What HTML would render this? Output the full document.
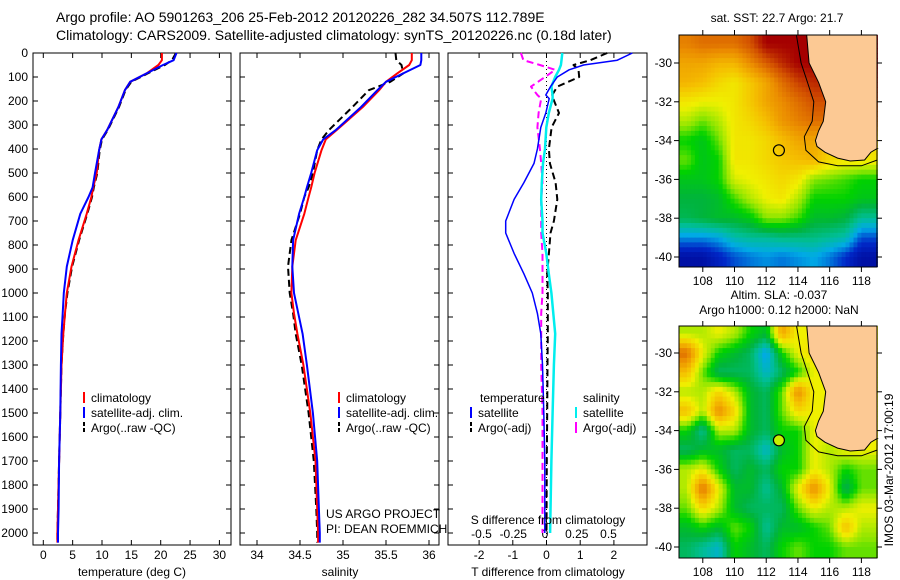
<!DOCTYPE html>
<html><head><meta charset="utf-8">
<style>
html,body{margin:0;padding:0;background:#fff;}
svg{display:block;font-family:"Liberation Sans",sans-serif;}
</style></head>
<body>
<svg id="fig" width="900" height="580" viewBox="0 0 900 580">
<text x="56" y="22" font-size="14">Argo profile: AO 5901263_206 25-Feb-2012 20120226_282 34.507S 112.789E</text>
<text x="56" y="40" font-size="14">Climatology: CARS2009. Satellite-adjusted climatology: synTS_20120226.nc (0.18d later)</text>
<g id="g1"></g>
<g id="g2"></g>
<g id="g3"></g>
<g id="m1"></g>
<g id="m2"></g>
<text x="777" y="22" font-size="12" text-anchor="middle">sat. SST: 22.7 Argo: 21.7</text>
<text x="779" y="299" font-size="12" text-anchor="middle">Altim. SLA: -0.037</text>
<text x="779" y="314" font-size="12" text-anchor="middle">Argo h1000: 0.12 h2000: NaN</text>
<text transform="translate(893,470) rotate(-90)" font-size="12" text-anchor="middle">IMOS 03-Mar-2012 17:00:19</text>
</svg>
<script>
// ---- profile data ----
const depth = [0,30,50,85,120,155,225,320,360,405,500,560,600,670,780,890,1000,1085,1170,1300,1500,1700,1900,2000,2040];
const tempClim = [20.2,20.2,19.6,17.6,14.8,13.9,12.8,10.9,9.9,9.5,9.1,8.5,8.2,7.4,6.0,4.8,4.0,3.7,3.4,3.1,2.9,2.7,2.5,2.4,2.4];
const tempSat = [22.7,22.2,20.4,17.6,14.8,13.9,12.8,10.9,9.9,9.5,8.8,8.4,7.7,6.3,5.0,4.0,3.5,3.3,3.1,3.0,2.9,2.7,2.6,2.5,2.5];
const tempArgo = [22.6,21.9,20.7,17.8,15.0,14.0,12.9,11.0,10.0,9.6,9.2,8.6,8.3,7.5,6.1,4.9,4.1,3.7,3.4,3.1,2.9,2.7,2.5,2.4,2.4];
const salClim = [35.80,35.80,35.77,35.63,35.50,35.42,35.23,34.93,34.80,34.75,34.67,34.63,34.60,34.55,34.45,34.41,34.40,34.43,34.47,34.54,34.62,34.68,34.70,34.71,34.71];
const salSat = [35.91,35.91,35.90,35.70,35.50,35.40,35.21,34.92,34.77,34.70,34.63,34.58,34.55,34.49,34.42,34.41,34.43,34.48,34.53,34.58,34.65,34.70,34.72,34.73,34.73];
const salArgo = [35.61,35.62,35.68,35.70,35.55,35.30,35.11,34.84,34.75,34.70,34.65,34.60,34.55,34.50,34.40,34.36,34.38,34.42,34.45,34.52,34.60,34.66,34.69,34.70,34.70];
const diffDepth = [0,30,50,70,100,140,175,190,250,310,400,460,540,610,700,750,835,920,1000,1085,1170,1300,1500,1700,2000];
const tDiffSat = [2.55,2.1,1.1,0.67,0.32,0.12,-0.02,0.08,-0.02,-0.17,-0.27,-0.37,-0.67,-0.96,-1.21,-1.21,-0.96,-0.67,-0.42,-0.27,-0.17,-0.12,-0.08,-0.05,-0.05];
const tDiffArgo = [1.8,1.3,0.8,0.95,0.97,0.32,0.17,0.2,0.37,0.15,0.07,0.1,0.27,0.32,0.22,0.12,0.07,0.02,0.04,0.04,0.04,0.03,0.02,0.01,0.0];
const sDiffSat = [0.136,0.13,0.125,0.11,0.08,0.05,0.06,0.06,0.03,0.01,0.0,-0.016,-0.025,-0.03,-0.02,-0.02,0.01,0.03,0.05,0.065,0.08,0.07,0.06,0.05,0.04];
const sDiffArgo = [-0.19,-0.17,-0.04,0.08,0.0,-0.11,-0.06,-0.03,-0.05,-0.06,-0.04,-0.03,-0.02,-0.03,-0.03,-0.03,-0.02,-0.02,-0.02,-0.03,-0.03,-0.03,-0.02,-0.02,-0.02];
const depthTicks = [0,100,200,300,400,500,600,700,800,900,1000,1100,1200,1300,1400,1500,1600,1700,1800,1900,2000];
const tempTicks = [0,5,10,15,20,25,30];
const salTicks = [34,34.5,35,35.5,36];
const salTickLabels = ["34","34.5","35","35.5","36"];
const tdTicks = [-2,-1,0,1,2];
const sdTicks = [-0.5,-0.25,0,0.25,0.5];
const sdTickLabels = ["-0.5","-0.25","0","0.25","0.5"];
// ---- map data (1-degree grid, rows lat -29..-40, cols lon 107..118) ----
const mapLats = [-29,-30,-31,-32,-33,-34,-35,-36,-37,-38,-39,-40];
const mapLons = [107,108,109,110,111,112,113,114,115,116,117,118];
const sstGrid = [
[0.82,0.85,0.85,0.85,0.9,1.0,1.0,1.0,1.0,1,1,1],
[0.75,0.75,0.72,0.72,0.8,0.88,0.95,1.0,1.0,1,1,1],
[0.72,0.7,0.65,0.62,0.68,0.75,0.85,0.92,0.95,0.95,0.95,0.95],
[0.62,0.6,0.6,0.62,0.68,0.75,0.8,0.85,0.9,0.9,0.9,0.9],
[0.55,0.5,0.55,0.62,0.65,0.7,0.78,0.82,0.85,0.85,0.85,0.85],
[0.45,0.42,0.5,0.62,0.62,0.65,0.7,0.75,0.75,0.7,0.68,0.65],
[0.5,0.42,0.45,0.62,0.62,0.65,0.68,0.7,0.72,0.65,0.62,0.62],
[0.42,0.42,0.45,0.58,0.6,0.62,0.65,0.62,0.52,0.5,0.48,0.45],
[0.38,0.38,0.4,0.48,0.55,0.6,0.62,0.55,0.45,0.45,0.45,0.42],
[0.36,0.38,0.4,0.4,0.43,0.52,0.52,0.48,0.4,0.4,0.38,0.3],
[0.2,0.2,0.22,0.28,0.3,0.3,0.32,0.32,0.32,0.3,0.28,0.15],
[0.05,0.05,0.1,0.15,0.18,0.2,0.18,0.2,0.22,0.18,0.12,0.05]];
const slaGrid = [
[0.55,0.55,0.6,0.55,0.45,0.4,0.75,0.6,0.6,0.6,0.6,0.6],
[0.85,0.6,0.45,0.4,0.35,0.2,0.45,0.6,0.65,0.65,0.65,0.65],
[0.7,0.5,0.35,0.35,0.35,0.25,0.35,0.45,0.6,0.6,0.6,0.6],
[0.55,0.55,0.65,0.55,0.4,0.35,0.5,0.8,0.6,0.6,0.6,0.6],
[0.7,0.55,0.8,0.65,0.4,0.35,0.5,0.65,0.6,0.6,0.6,0.6],
[0.45,0.3,0.55,0.55,0.4,0.35,0.45,0.45,0.6,0.6,0.6,0.6],
[0.35,0.4,0.4,0.35,0.35,0.25,0.4,0.45,0.6,0.55,0.6,0.6],
[0.55,0.6,0.45,0.35,0.4,0.35,0.45,0.45,0.6,0.55,0.45,0.5],
[0.55,0.85,0.6,0.4,0.4,0.3,0.4,0.6,0.8,0.6,0.35,0.5],
[0.5,0.65,0.55,0.4,0.35,0.35,0.35,0.5,0.6,0.55,0.55,0.6],
[0.4,0.45,0.4,0.5,0.45,0.3,0.4,0.4,0.45,0.5,0.7,0.55],
[0.35,0.3,0.25,0.45,0.4,0.35,0.45,0.5,0.45,0.45,0.5,0.5]];
const coastLon = [114.55,114.7,115.3,115.75,115.6,115.3,115.1,115.2,115.7,116.5,117.3,118.2,118.6,119.0];
const coastLat = [-28.56,-30,-31,-32,-33,-33.5,-34,-34.3,-34.6,-34.9,-35.05,-35.0,-34.6,-34.4];
const isoLon = [113.9,114.2,114.6,115.0,114.9,114.4,114.5,115.3,116.5,118.0,119.0];
const isoLat = [-28.56,-30,-31,-32,-33,-33.8,-34.5,-35.1,-35.3,-35.3,-35.0];
const argoPos = [112.8,-34.5];
const mapLonTicks = [108,110,112,114,116,118];
const mapLatTicks = [-30,-32,-34,-36,-38,-40];

const NS="http://www.w3.org/2000/svg";
function mk(parent,tag,attrs,name,text){
  const e=document.createElementNS(NS,tag);
  for(const k in attrs) e.setAttribute(k,attrs[k]);
  
  
  if(text!==undefined) e.textContent=text;
  parent.appendChild(e); return e;
}
const TOP=53,BOT=545;
const yD=d=>TOP+d*0.24;
const xT=t=>43.3+t*5.87;
const xS=s=>257+(s-34)*86;
const xTD=v=>546.5+v*33.7;
const xSD=v=>545+v*127;

function panel(g,x0,x1,name){
  mk(g,'rect',{x:x0,y:TOP,width:x1-x0,height:BOT-TOP,fill:'#fff',stroke:'#000','stroke-width':1},name+'-frame');
  depthTicks.forEach(d=>{
    const y=yD(d);
    mk(g,'line',{x1:x0,x2:x0+5,y1:y,y2:y,stroke:'#000'},name+'-ytick');
    mk(g,'line',{x1:x1-5,x2:x1,y1:y,y2:y,stroke:'#000'},name+'-ytick');
  });
}
function xticks(g,vals,fx,labels,name,labelY){
  vals.forEach((v,i)=>{
    const x=fx(v);
    mk(g,'line',{x1:x,x2:x,y1:TOP,y2:TOP+5,stroke:'#000'},name+'-tick');
    mk(g,'line',{x1:x,x2:x,y1:BOT-5,y2:BOT,stroke:'#000'},name+'-tick');
    if(labels) mk(g,'text',{x:x,y:labelY,'font-size':12,'text-anchor':'middle'},name+'-label',labels[i]);
  });
}
function line(g,ds,vs,fx,color,dash,name,w){
  let p='';
  vs.forEach((v,i)=>{ if(v===null) return; p+=(p?'L':'M')+fx(v).toFixed(1)+','+yD(ds[i]).toFixed(1); });
  const a={d:p,fill:'none',stroke:color,'stroke-width':w||2,'stroke-linejoin':'round'};
  if(dash) a['stroke-dasharray']=dash;
  mk(g,'path',a,name);
}
function legend(g,x,y,color,label,name){
  mk(g,'line',{x1:x,x2:x,y1:y-10,y2:y+1,stroke:color,'stroke-width':2,'stroke-dasharray':color==='#000'?'4,2':''},name+'-marker');
  mk(g,'text',{x:x+7,y:y,'font-size':12},name+'-label',label);
}

// panel 1
const g1=document.getElementById('g1');
panel(g1,33,231,'temp');
depthTicks.forEach(d=>mk(g1,'text',{x:28,y:yD(d)+4,'font-size':12,'text-anchor':'end'},'depth-label',String(d)));
xticks(g1,tempTicks,xT,tempTicks.map(String),'temp-x',559);
line(g1,depth,tempArgo,xT,'#000','7,4','temp-argo-line');
line(g1,depth,tempClim,xT,'#f00',null,'temp-clim-line');
line(g1,depth,tempSat,xT,'#00f',null,'temp-sat-line');
mk(g1,'text',{x:132,y:576,'font-size':12,'text-anchor':'middle'},'temp-x-title','temperature (deg C)');
legend(g1,84,402,'#f00','climatology','legend-climatology');
legend(g1,84,417,'#00f','satellite-adj. clim.','legend-satellite');
legend(g1,84,432,'#000','Argo(..raw -QC)','legend-argo');

// panel 2
const g2=document.getElementById('g2');
panel(g2,240,439,'sal');
xticks(g2,salTicks,xS,salTickLabels,'sal-x',559);
line(g2,depth,salArgo,xS,'#000','7,4','sal-argo-line');
line(g2,depth,salClim,xS,'#f00',null,'sal-clim-line');
line(g2,depth,salSat,xS,'#00f',null,'sal-sat-line');
mk(g2,'text',{x:340,y:576,'font-size':12,'text-anchor':'middle'},'sal-x-title','salinity');
legend(g2,339,402,'#f00','climatology','legend-climatology-2');
legend(g2,339,417,'#00f','satellite-adj. clim.','legend-satellite-2');
legend(g2,339,432,'#000','Argo(..raw -QC)','legend-argo-2');
mk(g2,'text',{x:326,y:518,'font-size':12},'project-label','US ARGO PROJECT');
mk(g2,'text',{x:326,y:533,'font-size':12},'pi-label','PI: DEAN ROEMMICH');

// panel 3
const g3=document.getElementById('g3');
panel(g3,448,647,'diff');
xticks(g3,tdTicks,xTD,tdTicks.map(String),'tdiff-x',559);
sdTicks.forEach((v,i)=>mk(g3,'text',{x:xSD(v),y:538,'font-size':12,'text-anchor':'middle'},'sdiff-label',sdTickLabels[i]));
mk(g3,'line',{x1:xTD(0),x2:xTD(0),y1:TOP,y2:BOT,stroke:'#000','stroke-dasharray':'1,3'},'zero-line');
line(g3,diffDepth,sDiffArgo,xSD,'#f0f','7,4','sdiff-argo-line');
line(g3,diffDepth,tDiffArgo,xTD,'#000','7,4','tdiff-argo-line');
line(g3,diffDepth,sDiffSat,xSD,'#0ee',null,'sdiff-sat-line',2.5);
line(g3,diffDepth,tDiffSat,xTD,'#00f',null,'tdiff-sat-line',1.5);
mk(g3,'text',{x:548,y:576,'font-size':12,'text-anchor':'middle'},'tdiff-x-title','T difference from climatology');
mk(g3,'text',{x:548,y:524,'font-size':12,'text-anchor':'middle'},'sdiff-x-title','S difference from climatology');
mk(g3,'text',{x:480,y:402,'font-size':12},'legend-temperature-head','temperature');
mk(g3,'text',{x:583,y:402,'font-size':12},'legend-salinity-head','salinity');
legend(g3,471,417,'#00f','satellite','legend-tdiff-sat');
legend(g3,471,432,'#000','Argo(-adj)','legend-tdiff-argo');
legend(g3,576,417,'#0ee','satellite','legend-sdiff-sat');
legend(g3,576,432,'#f0f','Argo(-adj)','legend-sdiff-argo');

// maps
const cstops=[[0,[0,0,140]],[0.12,[0,40,200]],[0.22,[0,170,230]],[0.3,[0,190,150]],[0.38,[0,180,60]],[0.45,[0,210,0]],[0.52,[140,230,0]],[0.6,[240,240,0]],[0.7,[245,190,0]],[0.8,[235,140,0]],[0.9,[210,80,0]],[1,[165,0,0]]];
function cmap(v){
  v=Math.max(0,Math.min(1,v));
  for(let i=1;i<cstops.length;i++){ if(v<=cstops[i][0]){const a=cstops[i-1],b=cstops[i],f=(v-a[0])/(b[0]-a[0]);
    return 'rgb('+a[1].map((c,k)=>Math.round(c+(b[1][k]-c)*f)).join(',')+')';}}
  return 'rgb(165,0,0)';
}
function sample(grid,lon,lat){
  let fi=(-29-lat), fj=(lon-107);
  fi=Math.max(0,Math.min(11,fi)); fj=Math.max(0,Math.min(11,fj));
  const i0=Math.floor(fi),j0=Math.floor(fj),i1=Math.min(11,i0+1),j1=Math.min(11,j0+1),a=fi-i0,b=fj-j0;
  return grid[i0][j0]*(1-a)*(1-b)+grid[i0][j1]*(1-a)*b+grid[i1][j0]*a*(1-b)+grid[i1][j1]*a*b;
}
function drawMap(gid,grid,top,lat30y,filledDot,name){
  const g=document.getElementById(gid);
  const L=679,R=877,B=top+232;
  const mx=l=>L+(l-106.5)*15.86, my=l=>lat30y+(-30-l)*19.4;
  const step=0.25;
  for(let lat=-28.5;lat>-40.75;lat-=step){
    for(let lon=106.5;lon<119;lon+=step){
      const x=mx(lon),y=my(lat);
      mk(g,'rect',{x:x.toFixed(1),y:y.toFixed(1),width:(step*15.86+0.6).toFixed(1),height:(step*19.4+0.6).toFixed(1),fill:cmap(sample(grid,lon+step/2,lat-step/2))},name+'-cell');
    }
  }
  let p='M'+mx(coastLon[0])+','+top;
  coastLon.forEach((l,i)=>p+='L'+mx(l).toFixed(1)+','+my(coastLat[i]).toFixed(1));
  p+='L'+R+','+my(-34.4)+'L'+R+','+top+'Z';
  mk(g,'path',{d:p,fill:'#fcc994',stroke:'#000','stroke-width':1},name+'-land');
  let q='';
  isoLon.forEach((l,i)=>q+=(q?'L':'M')+mx(l).toFixed(1)+','+my(isoLat[i]).toFixed(1));
  mk(g,'path',{d:q,fill:'none',stroke:'#000','stroke-width':1},name+'-isobath');
  mk(g,'rect',{x:L-30,y:top-40,width:30,height:280,fill:'#fff'},name+'-mask');
  mk(g,'rect',{x:L,y:top-15,width:R-L+2,height:15,fill:'#fff'},name+'-mask');
  mk(g,'rect',{x:L,y:B,width:R-L+2,height:20,fill:'#fff'},name+'-mask');
  mk(g,'rect',{x:L,y:top,width:R-L,height:B-top,fill:'none',stroke:'#000'},name+'-frame');
  mk(g,'circle',{cx:mx(argoPos[0]),cy:my(argoPos[1]),r:5.5,fill:filledDot?'#c8f000':'none',stroke:'#000','stroke-width':1.2},name+'-argo-position');
  mapLonTicks.forEach(l=>{const x=mx(l);
    mk(g,'line',{x1:x,x2:x,y1:top-5,y2:top,stroke:'#000'},name+'-lon-tick');
    mk(g,'line',{x1:x,x2:x,y1:B,y2:B+5,stroke:'#000'},name+'-lon-tick');
    mk(g,'text',{x:x,y:B+18,'font-size':12,'text-anchor':'middle'},name+'-lon-label',String(l));});
  mapLatTicks.forEach(l=>{const y=my(l);
    mk(g,'line',{x1:L-5,x2:L,y1:y,y2:y,stroke:'#000'},name+'-lat-tick');
    mk(g,'line',{x1:R,x2:R+5,y1:y,y2:y,stroke:'#000'},name+'-lat-tick');
    mk(g,'text',{x:L-7,y:y+4,'font-size':12,'text-anchor':'end'},name+'-lat-label',String(l));});
}
drawMap('m1',sstGrid,35,63,false,'sst');
drawMap('m2',slaGrid,326,353,true,'sla');
</script>
</body></html>
